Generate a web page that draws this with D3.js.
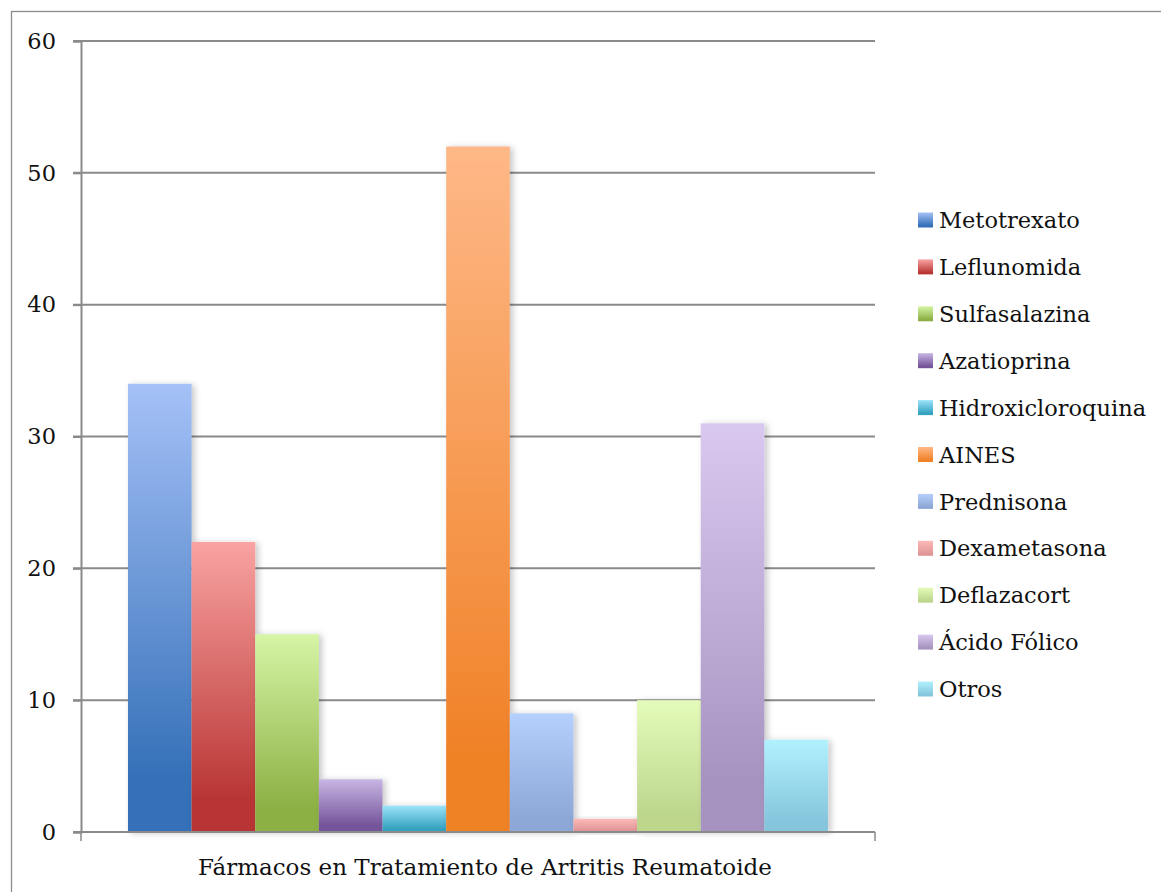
<!DOCTYPE html>
<html>
<head>
<meta charset="utf-8">
<script src="https://cdn.jsdelivr.net/npm/d3@7/dist/d3.min.js"></script>
<style>
  html, body { margin: 0; padding: 0; background: #fff; }
  svg { display: block; }
  text { font-family: "DejaVu Serif", "Liberation Serif", serif; fill: #111; }
</style>
</head>
<body>
<svg id="chart" width="1161" height="892"></svg>
<script>
// Chart data
const category = "Fármacos en Tratamiento de Artritis Reumatoide";
const seriesNames = ["Metotrexato", "Leflunomida", "Sulfasalazina", "Azatioprina", "Hidroxicloroquina",
  "AINES", "Prednisona", "Dexametasona", "Deflazacort", "Ácido Fólico", "Otros"];
const seriesValues = [34, 22, 15, 4, 2, 52, 9, 1, 10, 31, 7];
const yTicks = [0, 10, 20, 30, 40, 50, 60];
// top (light) and bottom (dark) colours of each series' gradient
const topColors = ["#a5c1f7", "#f9a3a2", "#d6f5a6", "#c8b6e4", "#9de3fb", "#feb887", "#b6d0fe", "#fdb9b9", "#e4fcb9", "#d9c8f0", "#b1f1fe"];
const bottomColors = ["#3570b8", "#b93634", "#8db044", "#75549a", "#35a2c0", "#f08228", "#8da7d6", "#e09696", "#bdd68c", "#a793c0", "#86c6dd"];

const svg = d3.select("#chart");
const plot = { left: 81, right: 875, top: 41, bottom: 832 };

const defs = svg.append("defs");
const shadow = defs.append("filter").attr("id", "barShadow")
  .attr("x", "-20%").attr("y", "-20%").attr("width", "150%").attr("height", "140%");
shadow.append("feDropShadow").attr("dx", 3).attr("dy", 1).attr("stdDeviation", 3)
  .attr("flood-color", "#000").attr("flood-opacity", 0.22);

seriesNames.forEach((name, i) => {
  const g = defs.append("linearGradient").attr("id", "grad" + i)
    .attr("x1", 0).attr("y1", 0).attr("x2", 0).attr("y2", 1);
  g.append("stop").attr("offset", "0%").attr("stop-color", topColors[i]);
  g.append("stop").attr("offset", "88%").attr("stop-color", bottomColors[i]);
  g.append("stop").attr("offset", "100%").attr("stop-color", bottomColors[i]);
});

// outer frame
svg.append("rect").attr("x", 11.5).attr("y", 11.5).attr("width", 1170).attr("height", 900)
  .attr("fill", "none").attr("stroke", "#8c8c8c").attr("stroke-width", 1.3);

const y = d3.scaleLinear().domain([0, 60]).range([plot.bottom, plot.top]);
const x0 = d3.scaleBand().domain([category]).range([plot.left, plot.right])
  .paddingInner(0).paddingOuter(0.0671);
const x1 = d3.scaleBand().domain(seriesNames).range([0, x0.bandwidth()]).padding(0);

// horizontal grid lines
svg.append("g").selectAll("line").data(yTicks.filter(t => t > 0)).join("line")
  .attr("x1", plot.left - 8).attr("x2", plot.right)
  .attr("y1", d => y(d)).attr("y2", d => y(d))
  .attr("stroke", "#8a8a8a").attr("stroke-width", 2);

// y axis
const yAxis = svg.append("g").attr("transform", `translate(${plot.left},0)`)
  .call(d3.axisLeft(y).tickValues(yTicks).tickSize(8).tickPadding(17).tickFormat(d3.format("d")));
yAxis.select(".domain").attr("stroke", "#8a8a8a").attr("stroke-width", 2);
yAxis.selectAll(".tick line").attr("stroke", "#8a8a8a").attr("stroke-width", 2);
yAxis.selectAll(".tick text").attr("font-size", 22.5).attr("fill", "#111")
  .style("font-family", '"DejaVu Serif", serif');

// bars
const group = svg.append("g").attr("transform", `translate(${x0(category)},0)`);
group.selectAll("rect").data(seriesValues).join("rect")
  .attr("x", (d, i) => x1(seriesNames[i]))
  .attr("width", x1.bandwidth())
  .attr("y", d => y(d))
  .attr("height", d => y(0) - y(d))
  .attr("fill", (d, i) => `url(#grad${i})`)
  .attr("filter", "url(#barShadow)");

// x axis
const xAxis = svg.append("g").attr("transform", `translate(0,${plot.bottom})`)
  .call(d3.axisBottom(x0).tickSize(0).tickPadding(27));
xAxis.select(".domain").remove();
svg.append("line").attr("x1", plot.left - 8).attr("x2", plot.right)
  .attr("y1", plot.bottom).attr("y2", plot.bottom)
  .attr("stroke", "#8a8a8a").attr("stroke-width", 2);
[plot.left, plot.right].forEach(px => {
  svg.append("line").attr("x1", px).attr("x2", px)
    .attr("y1", plot.bottom).attr("y2", plot.bottom + 9)
    .attr("stroke", "#8a8a8a").attr("stroke-width", 1.5);
});
xAxis.selectAll(".tick text").attr("font-size", 23).attr("fill", "#111")
  .style("font-family", '"DejaVu Serif", serif')
  .attr("transform", "translate(7,0)");

// legend
const legend = svg.append("g").attr("transform", "translate(918,0)");
const item = legend.selectAll("g").data(seriesNames).join("g")
  .attr("transform", (d, i) => `translate(0,${220 + i * 46.9})`);
item.append("rect").attr("x", 0).attr("y", -7.5).attr("width", 15).attr("height", 15)
  .attr("fill", (d, i) => `url(#grad${i})`);
item.append("text").attr("x", 21).attr("y", 0).attr("dy", "0.36em")
  .attr("font-size", 22.5).text(d => d);
</script>
</body>
</html>
